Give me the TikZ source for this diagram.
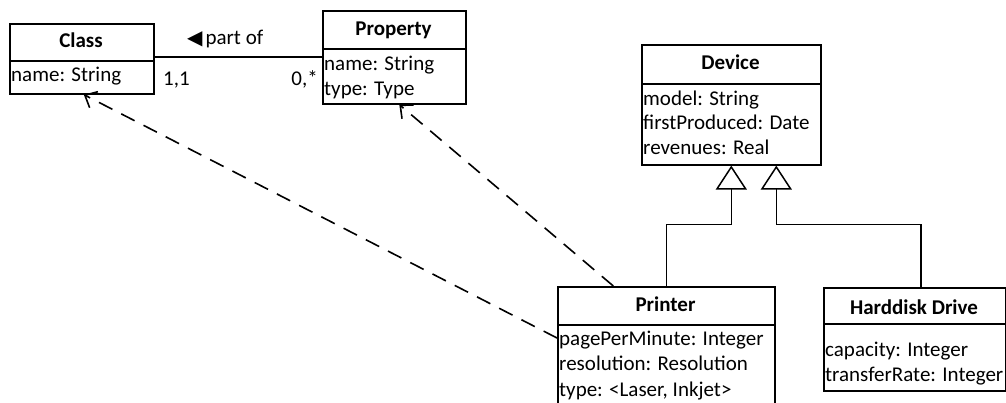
\documentclass[tikz,border=0pt]{standalone}
\usepackage{fontspec}
\setmainfont{Carlito}
\newfontfamily\symfont{DejaVu Sans}
\usetikzlibrary{arrows.meta}
\begin{document}
\begin{tikzpicture}[x=1pt,y=-1pt,
  box/.style={draw, line width=1.6pt, inner sep=0pt, anchor=north west},
  txt/.style={inner sep=0pt, anchor=base west, font=\fontsize{21}{25}\selectfont},
  hdr/.style={inner sep=0pt, anchor=base, font=\fontsize{21}{25}\selectfont\bfseries},
  assoc/.style={line width=1.4pt},
  gen/.style={line width=1.5pt, -{Triangle[open, length=24pt, width=31pt, line width=1.5pt]}},
  dep/.style={line width=1.6pt, dash pattern=on 15pt off 10pt, -{Straight Barb[length=10pt, width=18pt, line width=1.6pt]}}
]
\useasboundingbox (0,0) rectangle (1006,403);
% Class
\node[box, minimum width=144pt, minimum height=37pt] (classH) at (9,23) {};
\node[box, minimum width=144pt, minimum height=33pt] (classB) at (9,60) {};
\node[hdr] (classT) at (81,47.5) {Class};
\node[txt] (classA) at (11,82) {name: String};
% Property
\node[box, minimum width=143pt, minimum height=38pt] (propH) at (322,10) {};
\node[box, minimum width=143pt, minimum height=55pt] (propB) at (322,48) {};
\node[hdr] (propT) at (393.5,36) {Property};
\node[txt] (propA1) at (324,71) {name: String};
\node[txt] (propA2) at (324,96) {type: Type};
% Device
\node[box, minimum width=179pt, minimum height=39pt] (devH) at (641,44) {};
\node[box, minimum width=179pt, minimum height=81pt] (devB) at (641,83) {};
\node[hdr] (devT) at (730.5,70) {Device};
\node[txt] (devA1) at (643,105.5) {model: String};
\node[txt] (devA2) at (643,130) {firstProduced: Date};
\node[txt] (devA3) at (643,155) {revenues: Real};
% Printer
\node[box, minimum width=217pt, minimum height=38pt] (printH) at (557,286) {};
\node[box, minimum width=217pt, minimum height=100pt] (printB) at (557,324) {};
\node[hdr] (printT) at (665.5,311.5) {Printer};
\node[txt] (printA1) at (559,345) {pagePerMinute: Integer};
\node[txt] (printA2) at (559,370.5) {resolution: Resolution};
\node[txt] (printA3) at (559,396) {type: <Laser, Inkjet>};
% Harddisk
\node[box, minimum width=182pt, minimum height=36pt] (hddH) at (823,287) {};
\node[box, minimum width=182pt, minimum height=67pt] (hddB) at (823,323) {};
\node[hdr] (hddT) at (914,314) {Harddisk Drive};
\node[txt] (hddA1) at (825,356) {capacity: Integer};
\node[txt] (hddA2) at (825,381.5) {transferRate: Integer};
% association
\coordinate (assocY) at (0,57);
\draw[assoc] (classH.east |- assocY) -- (propB.west |- assocY);
\node[txt] (assocL) at (187,45) {{\symfont\fontsize{20}{20}\selectfont ◀}\kern3pt part of};
\node[txt] (mult1) at (163,86) {1,1};
\node[txt, anchor=base east] (mult2) at (318,86) {0,*};
% generalizations
\draw[gen] (printH.north) |- ([yshift=-59pt]devB.south) -- (devB.south);
\draw[gen] ([xshift=6pt]hddH.north) |- ([xshift=45pt,yshift=-59pt]devB.south) -- ([xshift=45pt]devB.south);
% dependencies
\draw[dep] ([xshift=-53pt]printH.north) -- ([xshift=5pt]propB.south);
\draw[dep] ([yshift=-14pt]printB.north west) -- ([xshift=2pt]classB.south);
\end{tikzpicture}
\end{document}
